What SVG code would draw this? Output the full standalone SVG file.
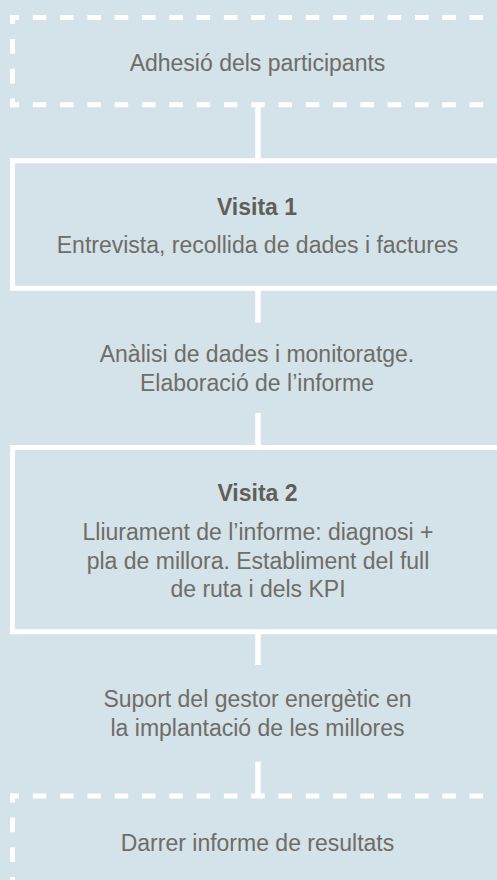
<svg xmlns="http://www.w3.org/2000/svg" width="497" height="880" viewBox="0 0 497 880">
<style>
.bg{fill:#d4e2ea}
.solid{fill:none;stroke:#ffffff;stroke-width:5}
.dh{fill:none;stroke:#ffffff;stroke-width:5;stroke-dasharray:13.5 13.8;stroke-dashoffset:4.5}
.dv{fill:none;stroke:#ffffff;stroke-width:5;stroke-dasharray:14.7 15;stroke-dashoffset:5.7}
.conn{stroke:#ffffff;stroke-width:5.5}
text{font-family:"Liberation Sans",Arial,sans-serif;font-size:23px;fill:#6e6d66;text-anchor:middle}
.b{font-weight:bold;fill:#5f5e58}
</style>
<rect class="bg" x="0" y="0" width="497" height="880"/>
<g id="connectors">
<line class="conn" x1="258" y1="107" x2="258" y2="159"/>
<line class="conn" x1="258" y1="290" x2="258" y2="322.7"/>
<line class="conn" x1="258" y1="413" x2="258" y2="446"/>
<line class="conn" x1="258" y1="633" x2="258" y2="665"/>
<line class="conn" x1="258" y1="761.7" x2="258" y2="794"/>
</g>
<g id="adhesio">
<line class="dh" x1="10" y1="17.5" x2="510" y2="17.5"/>
<line class="dh" x1="10" y1="104.8" x2="510" y2="104.8"/>
<line class="dv" x1="12.5" y1="15" x2="12.5" y2="107.3"/>
<text x="257.5" y="70.7">Adhesió dels participants</text>
</g>
<g id="visita1">
<path class="solid" d="M520 160.8 H12.5 V288.3 H520"/>
<text class="b" x="257" y="215">Visita 1</text>
<text x="257.5" y="253.3">Entrevista, recollida de dades i factures</text>
</g>
<g id="analisi">
<text x="257" y="361.7">Anàlisi de dades i monitoratge.</text>
<text x="257" y="390.7">Elaboració de l’informe</text>
</g>
<g id="visita2">
<path class="solid" d="M520 447.5 H12.5 V631.7 H520"/>
<text class="b" x="257.5" y="500.7">Visita 2</text>
<text x="258" y="540">Lliurament de l’informe: diagnosi +</text>
<text x="258" y="569">pla de millora. Establiment del full</text>
<text x="258" y="597.3">de ruta i dels KPI</text>
</g>
<g id="suport">
<text x="257.5" y="707.3">Suport del gestor energètic en</text>
<text x="257.5" y="735.7">la implantació de les millores</text>
</g>
<g id="darrer">
<line class="dh" x1="10" y1="796" x2="510" y2="796"/>
<line class="dv" x1="12.5" y1="793.5" x2="12.5" y2="900"/>
<text x="257.5" y="850.7">Darrer informe de resultats</text>
</g>
</svg>
